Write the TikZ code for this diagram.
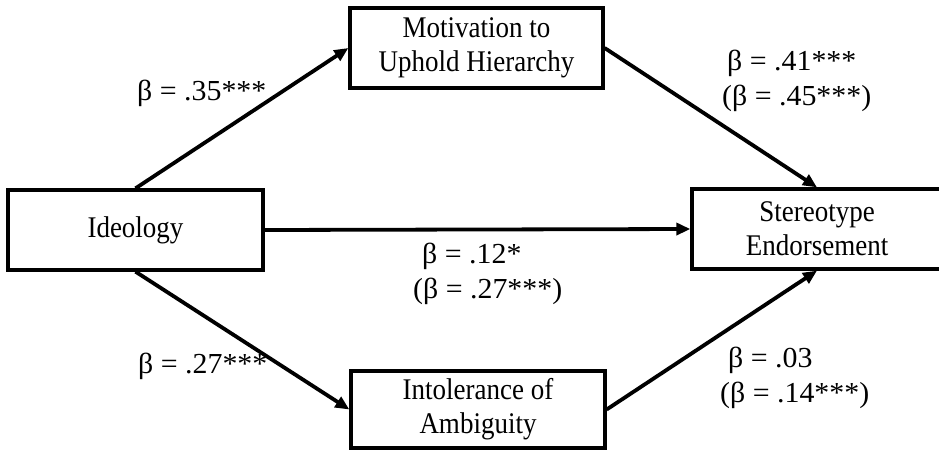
\documentclass[tikz,border=0pt]{standalone}
\usepackage{fontspec}
\setmainfont{Liberation Serif}
\newfontfamily\boxfont{Liberation Serif}[FakeStretch=0.9]
\newfontfamily\labfont{Liberation Serif}[FakeStretch=1.03]
\usetikzlibrary{arrows.meta}
\begin{document}
\begin{tikzpicture}[x=1pt,y=-1pt,
  box/.style={draw,line width=3.3pt,align=center,inner sep=0pt,font=\boxfont\fontsize{30}{34}\selectfont},
  conn/.style={line width=3.8pt,-{Triangle[length=14pt,width=12pt]}},
  lab/.style={anchor=base west,inner sep=0pt,font=\labfont\fontsize{29}{33}\selectfont}]
\useasboundingbox (0,0) rectangle (939,450);
\node[box,minimum width=253pt,minimum height=80pt] (mot) at (476.5,48) {Motivation to\\Uphold Hierarchy};
\node[box,minimum width=255pt,minimum height=80pt] (ideo) at (135.5,230) {Ideology};
\node[box,minimum width=250pt,minimum height=80pt] (ster) at (817,229) {Stereotype\\Endorsement};
\node[box,minimum width=254pt,minimum height=77pt] (intol) at (478,409.5) {Intolerance of\\Ambiguity};
\draw[conn] (ideo.north) -- (mot.west);
\draw[conn] (mot.east) -- (ster.north);
\draw[conn] (ideo.east) -- (ster.west);
\draw[conn] (ideo.south) -- (intol.west);
\draw[conn] (intol.east) -- (ster.south);
\node[lab] (l1) at (137,100) {β = .35***};
\node[lab] (l2a) at (727,70) {β = .41***};
\node[lab] (l2b) at (722,105) {(β = .45***)};
\node[lab] (l3a) at (422,263) {β = .12*};
\node[lab] (l3b) at (413,298) {(β = .27***)};
\node[lab] (l4) at (138,373) {β = .27***};
\node[lab] (l5a) at (728,367) {β = .03};
\node[lab] (l5b) at (720,402) {(β = .14***)};
\end{tikzpicture}
\end{document}
